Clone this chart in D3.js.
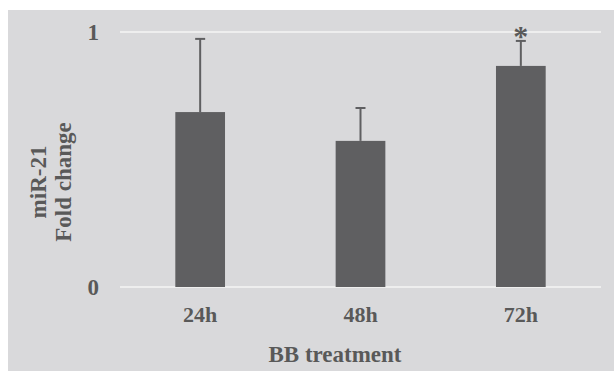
<!DOCTYPE html>
<html>
<head>
<meta charset="utf-8">
<script src="https://cdn.jsdelivr.net/npm/d3@7"></script>
<style>
  body { margin: 0; background: #fff; }
  text { font-family: "Liberation Serif", "Times New Roman", serif; font-weight: bold; fill: #595959; }
</style>
</head>
<body>
<svg id="chart" width="614" height="371"></svg>
<script>
// values
let categories = ['24h', '48h', '72h'];
let foldChange = [0.686, 0.573, 0.867];
let errorUpper = [0.973, 0.702, 0.965];
let significant = [false, false, true];
let yTicks = [0, 1];

let width = 614,
    height = 371,
    margin = { left: 120, right: 13, top: 32, bottom: 84 };

let svg = d3.select('#chart');

svg.append('rect')
   .attr('x', 8).attr('y', 10)
   .attr('width', width - 8).attr('height', height - 10)
   .attr('fill', '#d9d9db');

let x = d3.scaleBand()
          .domain(categories)
          .range([margin.left, width - margin.right])
          .paddingInner(0.69)
          .paddingOuter(0.345);

let y = d3.scaleLinear()
          .domain([0, 1])
          .range([height - margin.bottom, margin.top]);

// gridlines
svg.append('g')
   .selectAll('line')
   .data(yTicks)
   .join('line')
   .attr('x1', margin.left).attr('x2', width - margin.right)
   .attr('y1', d => y(d)).attr('y2', d => y(d))
   .attr('stroke', '#f4f4f5')
   .attr('stroke-width', 1.5);

// y tick labels
svg.append('g')
   .selectAll('text')
   .data(yTicks)
   .join('text')
   .attr('x', 99)
   .attr('y', d => y(d) + 7.5)
   .attr('text-anchor', 'end')
   .style('font-size', '23px')
   .text(d => d);

// bars
svg.append('g')
   .selectAll('rect')
   .data(foldChange)
   .join('rect')
   .attr('x', (d, i) => x(categories[i]))
   .attr('y', d => y(d))
   .attr('width', x.bandwidth())
   .attr('height', d => y(0) - y(d))
   .attr('fill', '#5f5f61');

// error bars (upper only)
let err = svg.append('g').attr('stroke', '#5f5f61').attr('stroke-width', 2);
categories.forEach(function (c, i) {
  let cx = x(c) + x.bandwidth() / 2;
  err.append('line')
     .attr('x1', cx).attr('x2', cx)
     .attr('y1', y(foldChange[i])).attr('y2', y(errorUpper[i]));
  err.append('line')
     .attr('x1', cx - 5).attr('x2', cx + 5)
     .attr('y1', y(errorUpper[i])).attr('y2', y(errorUpper[i]));
});

// significance marks
svg.append('g')
   .selectAll('text')
   .data(categories.filter((c, i) => significant[i]))
   .join('text')
   .attr('x', d => x(d) + x.bandwidth() / 2)
   .attr('y', d => y(errorUpper[categories.indexOf(d)]) + 5)
   .attr('text-anchor', 'middle')
   .style('font-size', '30px')
   .text('*');

// x labels
svg.append('g')
   .selectAll('text')
   .data(categories)
   .join('text')
   .attr('x', d => x(d) + x.bandwidth() / 2)
   .attr('y', 322)
   .attr('text-anchor', 'middle')
   .style('font-size', '22px')
   .text(d => d);

// axis titles
svg.append('text')
   .attr('x', 335).attr('y', 362)
   .attr('text-anchor', 'middle')
   .style('font-size', '23px')
   .text('BB treatment');

let yTitle = svg.append('text')
   .attr('transform', 'translate(0,182) rotate(-90)')
   .attr('text-anchor', 'middle')
   .style('font-size', '23px');
yTitle.append('tspan').attr('x', 0).attr('y', 46).text('miR-21');
yTitle.append('tspan').attr('x', 0).attr('y', 71).text('Fold change');
</script>
</body>
</html>
